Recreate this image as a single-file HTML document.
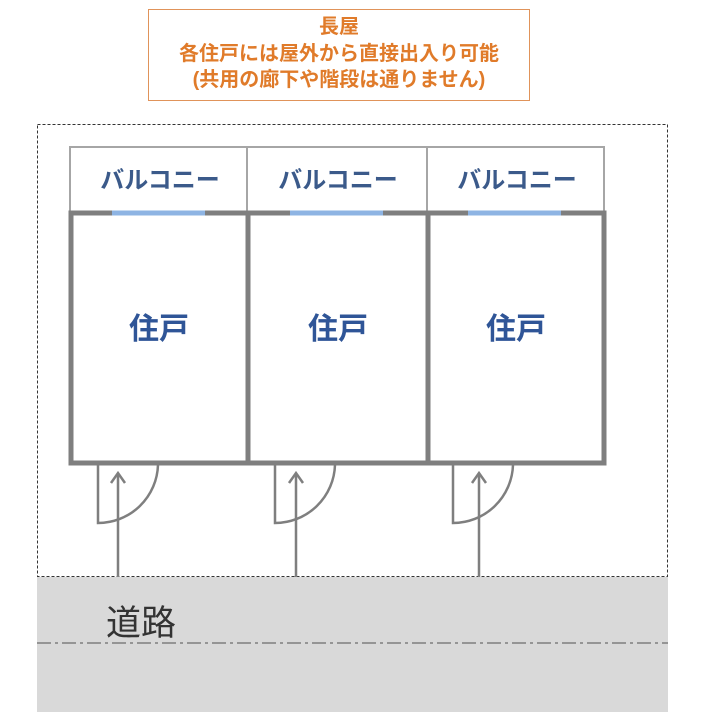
<!DOCTYPE html>
<html><head><meta charset="utf-8"><style>
body{margin:0;background:#fff;width:721px;height:717px;overflow:hidden}
svg text{font-family:"Liberation Sans","Noto Sans CJK JP",sans-serif}
</style></head><body>
<svg width="721" height="717" viewBox="0 0 721 717" xmlns="http://www.w3.org/2000/svg">
<rect x="148.5" y="9.5" width="381" height="91" fill="#fff" stroke="#e0935a" stroke-width="1"/>
<g fill="#e07b2a" font-weight="bold" text-anchor="middle">
<text x="339" y="33" font-size="20">長屋</text>
<text x="339" y="60" font-size="20">各住戸には屋外から直接出入り可能</text>
<text x="339" y="86" font-size="20">(共用の廊下や階段は通りません)</text>
</g>
<rect x="37" y="577" width="631" height="135" fill="#d9d9d9"/>
<line x1="37" y1="643" x2="668" y2="643" stroke="#7f7f7f" stroke-width="1.5" stroke-dasharray="14,4,3,4"/>
<text x="106" y="635" font-size="35" fill="#333">道路</text>
<rect x="37.5" y="124.5" width="630" height="452" fill="none" stroke="#333" stroke-width="1" stroke-dasharray="3,2"/>
<g fill="none" stroke="#a6a6a6" stroke-width="2">
<rect x="70" y="147" width="177" height="66"/>
<rect x="247" y="147" width="180" height="66"/>
<rect x="427" y="147" width="177" height="66"/>
</g>
<g fill="none" stroke="#7f7f7f" stroke-width="5">
<rect x="71" y="213" width="533" height="250"/>
<line x1="248" y1="213" x2="248" y2="463"/>
<line x1="428" y1="213" x2="428" y2="463"/>
</g>
<g stroke="#8eb4e3" stroke-width="5">
<line x1="112" y1="213" x2="205" y2="213"/>
<line x1="290" y1="213" x2="383" y2="213"/>
<line x1="468" y1="213" x2="561" y2="213"/>
</g>
<g fill="#3b5a8a" font-size="24" font-weight="bold" text-anchor="middle">
<text x="160" y="188">バルコニー</text>
<text x="338" y="188">バルコニー</text>
<text x="517" y="188">バルコニー</text>
</g>
<g fill="#2f5597" font-size="30" font-weight="bold" text-anchor="middle">
<text x="159" y="339">住戸</text>
<text x="338" y="339">住戸</text>
<text x="516" y="339">住戸</text>
</g>
<g fill="none" stroke="#7f7f7f" stroke-width="2.5">
<path d="M98,465 L98,523 A60,60 0 0 0 158,465"/>
<path d="M275,465 L275,523 A60,60 0 0 0 335,465"/>
<path d="M453,465 L453,523 A60,60 0 0 0 513,465"/>
<line x1="118" y1="577" x2="118" y2="473"/>
<line x1="296" y1="577" x2="296" y2="473"/>
<line x1="479" y1="577" x2="479" y2="473"/>
<path d="M111,483 L118,473 L125,483"/>
<path d="M289,483 L296,473 L303,483"/>
<path d="M472,483 L479,473 L486,483"/>
</g>
</svg>
</body></html>
